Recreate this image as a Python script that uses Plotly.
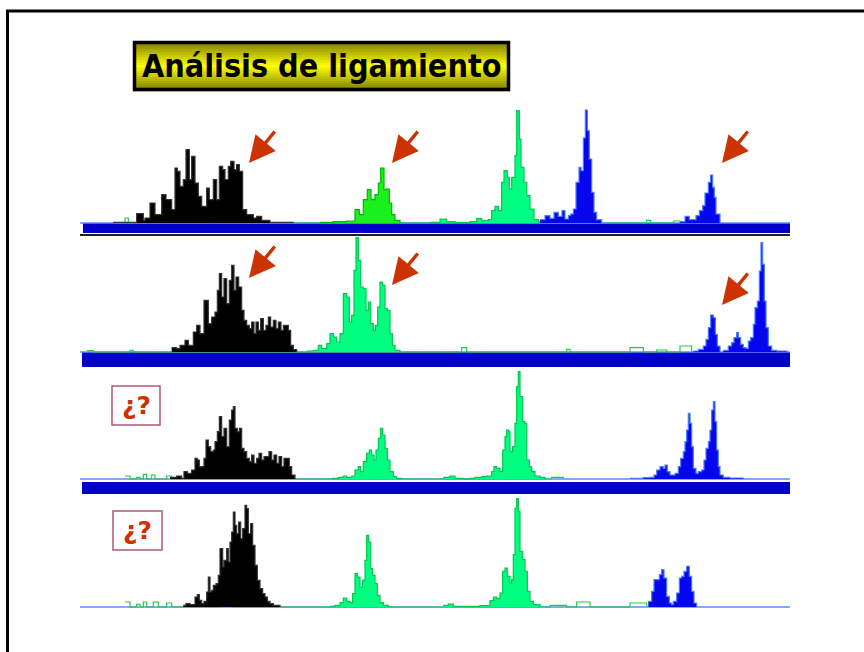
import plotly.graph_objects as go

# ---------------- DATA (scan position, intensity) ----------------
# Panel 1
p1_black_x = [100,170,190,195,210,225,245,258,275,285,292,300,310,318,328,335,345,355,365,380,388,400,410,418,428,435,445,452,462,470,478,488,500,520,530,545,570,640]
p1_black_y = [2,28,8,15,60,25,85,70,40,165,155,110,130,220,130,200,120,80,50,105,70,130,70,170,160,130,170,185,160,175,155,40,25,15,20,8,2,0]
p1_lime_x = [720,760,800,825,838,850,862,873,885,895,902,912,918,928,935,945,960]
p1_lime_y = [2,4,6,40,25,70,100,70,85,120,165,100,102,60,25,8,0]
p1_green_x = [1050,1080,1100,1125,1170,1190,1205,1225,1235,1245,1255,1265,1272,1282,1288,1295,1305,1310,1318,1323,1332,1340,1350,1362,1375,1395]
p1_green_y = [2,12,4,1,4,14,7,10,37,50,37,122,157,137,102,137,202,337,252,167,122,82,42,10,4,0]
p1_blue_x = [1380,1395,1410,1422,1435,1446,1455,1465,1472,1480,1488,1497,1503,1510,1516,1522,1528,1535,1542,1550,1565]
p1_blue_y = [10,22,14,32,20,37,12,22,27,42,122,167,157,255,339,277,192,92,32,10,0]
p1_blue2_x = [1800,1815,1828,1840,1848,1858,1868,1875,1885,1892,1898,1903,1908,1920]
p1_blue2_y = [4,20,10,10,22,37,52,90,122,144,107,77,27,0]
p1_noise_x = [100,135,145,200,210,255,265,305,315,390,400,450,460,1700,1712,1780,1800]
p1_noise_y = [0,15,0,12,0,10,0,10,0,12,0,12,0,8,0,6,0]

# Panel 2
p2_black_x = [275,290,300,315,325,340,350,360,372,385,395,405,412,418,425,432,440,448,455,462,468,476,485,492,500,508,515,522,528,535,542,550,558,565,572,580,588,595,603,610,618,625,632,640,650]
p2_black_y = [13,10,20,35,20,60,80,55,155,85,105,120,185,235,165,220,145,215,260,185,225,195,125,95,80,70,90,55,90,65,100,65,80,105,75,95,70,90,65,80,80,65,20,7,0]
p2_green_x = [680,700,715,725,740,750,760,770,780,790,800,808,815,822,828,835,842,850,858,865,872,880,886,893,900,908,915,922,930,937,945,960]
p2_green_y = [3,5,20,10,25,55,45,30,55,175,165,90,110,245,343,275,195,190,125,150,85,65,80,135,210,200,130,125,55,20,5,0]
p2_blue_x = [1840,1855,1870,1878,1885,1892,1900,1906,1912,1920]
p2_blue_y = [3,8,18,38,73,111,103,53,18,1]
p2_blue2_x = [1930,1945,1955,1962,1970,1975,1982,1990,1998,2005,2012,2020,2025,2032,2038,2043,2048,2053,2058,2065,2075,2090,2120]
p2_blue2_y = [5,18,28,43,58,43,23,13,11,33,43,83,133,153,243,328,263,153,73,18,5,3,1]
p2_noise_x = [20,40,150,160,1145,1160,1460,1470,1650,1690,1730,1760,1800,1835]
p2_noise_y = [4,0,5,0,13,0,8,0,13,0,6,0,18,0]

# Panel 3
p3_black_x = [270,290,305,312,322,335,345,352,358,365,372,378,385,392,400,405,412,418,425,432,440,448,455,460,465,472,478,485,492,500,508,515,522,530,537,545,552,560,567,575,582,590,597,605,612,620,628,635,645]
p3_black_y = [5,9,2,22,17,27,62,57,37,37,62,117,97,82,87,112,142,187,127,152,97,177,207,217,152,142,152,92,82,62,52,72,47,62,77,57,67,67,82,57,72,47,67,37,62,62,37,12,0]
p3_green_x = [755,775,790,800,815,825,835,842,850,860,868,875,882,888,895,902,908,915,922,930,940,950,965]
p3_green_y = [2,5,9,5,9,27,37,22,52,77,87,72,57,87,122,152,132,92,57,22,7,2,0]
p3_green2_x = [1090,1110,1125,1150,1170,1185,1205,1220,1235,1242,1250,1260,1268,1275,1280,1286,1290,1298,1305,1310,1315,1320,1328,1335,1340,1348,1355,1365,1380,1395]
p3_green2_y = [5,9,2,0,2,5,7,9,22,37,32,22,87,127,147,142,82,97,167,277,322,247,172,167,57,37,22,9,5,0]
p3_blue_x = [1650,1690,1710,1722,1730,1740,1750,1755,1762,1770,1785,1795,1802,1810,1815,1820,1825,1830,1835,1840,1848,1855,1865,1872,1878,1885,1890,1895,1900,1905,1910,1915,1920,1930,1950,1990]
p3_blue_y = [2,4,5,12,27,37,32,42,22,12,17,37,62,82,112,147,197,167,97,32,17,22,27,57,92,112,147,207,232,172,87,37,12,5,3,0]
p3_noise_x = [135,150,170,180,190,200,215,225,260,275,1415,1450]
p3_noise_y = [9,0,5,0,14,0,12,0,9,0,5,0]

# Panel 4
p4_black_x = [310,318,330,345,352,358,365,372,380,385,390,395,400,408,415,420,428,432,440,445,450,455,460,465,470,476,482,488,495,500,505,512,518,525,532,540,548,555,562,570,580,600]
p4_black_y = [5,10,7,30,37,20,10,17,45,90,45,50,65,70,95,175,120,140,175,135,195,225,285,245,220,255,205,235,305,295,220,250,185,125,80,55,40,30,17,10,5,0]
p4_green_x = [750,765,780,790,800,810,818,825,832,840,848,855,860,866,872,878,885,892,900,910,925]
p4_green_y = [2,5,13,27,17,13,40,100,90,60,80,140,215,195,115,95,70,35,13,5,0]
p4_green2_x = [1090,1105,1120,1200,1230,1240,1250,1260,1268,1275,1282,1290,1295,1300,1305,1310,1315,1320,1328,1335,1342,1350,1360,1380]
p4_green2_y = [5,9,2,4,19,30,25,42,107,117,92,72,82,157,297,325,287,167,142,107,47,17,7,0]
p4_blue_x = [1705,1715,1722,1730,1738,1745,1752,1760,1768,1775,1780,1790,1798,1805,1812,1820,1828,1835,1842,1850]
p4_blue_y = [17,47,82,82,97,112,87,32,12,7,17,42,87,92,107,122,92,47,12,0]
p4_noise_x = [135,150,170,180,190,200,220,235,260,275,420,455,1410,1460,1490,1530,1650,1700]
p4_noise_y = [15,0,8,0,15,0,15,0,12,0,8,0,5,0,15,0,12,0]

title_text = "Análisis de ligamiento"
question_text = "¿?"

# ---------------- LAYOUT HELPERS ----------------
W, H = 864, 652
def px(x):
    return x / W
def py(y):
    return 1 - y / H

XMAX = 2130
panels = [  # top px, bottom px, baseline px
    (108, 237, 223),
    (236, 367, 352),
    (366, 496, 479),
    (494, 612, 607),
]

BLACK = "#000000"
LIME_F, LIME_L = "#1af01a", "#00b800"
GREEN_F, GREEN_L = "#00ff80", "#00c850"
BLUE_F, BLUE_L = "#0505ee", "#4a7bff"
BAND = "#0000c8"
RED = "#cc3300"

fig = go.Figure()

def add(x, y, n, fc, lc, fill=True, width=1.2):
    fig.add_trace(go.Scatter(
        x=x, y=y, mode="lines",
        line=dict(shape="hv", color=lc, width=width),
        fill="tozeroy" if fill else None,
        fillcolor=fc if fill else None,
        xaxis=f"x{n}" if n > 1 else "x", yaxis=f"y{n}" if n > 1 else "y",
        hoverinfo="skip", showlegend=False))

def baseline(n):
    add([0, XMAX], [0, 0], n, None, "#5a8cff", fill=False, width=1.5)

series = [
    [(p1_noise_x, p1_noise_y, "n"), (p1_black_x, p1_black_y, "k"), (p1_lime_x, p1_lime_y, "l"),
     (p1_green_x, p1_green_y, "g"), (p1_blue_x, p1_blue_y, "b"), (p1_blue2_x, p1_blue2_y, "b")],
    [(p2_noise_x, p2_noise_y, "n"), (p2_black_x, p2_black_y, "k"), (p2_green_x, p2_green_y, "g"),
     (p2_blue_x, p2_blue_y, "b"), (p2_blue2_x, p2_blue2_y, "b")],
    [(p3_noise_x, p3_noise_y, "n"), (p3_black_x, p3_black_y, "k"), (p3_green_x, p3_green_y, "g"),
     (p3_green2_x, p3_green2_y, "g"), (p3_blue_x, p3_blue_y, "b")],
    [(p4_noise_x, p4_noise_y, "n"), (p4_black_x, p4_black_y, "k"), (p4_green_x, p4_green_y, "g"),
     (p4_green2_x, p4_green2_y, "g"), (p4_blue_x, p4_blue_y, "b")],
]

for i, lst in enumerate(series):
    n = i + 1
    baseline(n)
    for x, y, kind in lst:
        if kind == "n":
            add(x, y, n, None, "#22cc44", fill=False, width=1.2)
        elif kind == "k":
            add(x, y, n, BLACK, "#333333")
        elif kind == "l":
            add(x, y, n, LIME_F, LIME_L)
        elif kind == "g":
            add(x, y, n, GREEN_F, GREEN_L)
        else:
            add(x, y, n, BLUE_F, BLUE_L)

layout = dict(width=W, height=H, margin=dict(l=0, r=0, t=0, b=0),
              paper_bgcolor="white", plot_bgcolor="white")
for i, (top, bot, base) in enumerate(panels):
    n = i + 1
    sx = "" if n == 1 else str(n)
    layout[f"xaxis{sx}"] = dict(domain=[px(80), px(790)], range=[0, XMAX], visible=False,
                                anchor=f"y{sx}", fixedrange=True)
    layout[f"yaxis{sx}"] = dict(domain=[py(bot), py(top)], range=[-(bot - base) * 3, (base - top) * 3],
                                visible=False, anchor=f"x{sx}", fixedrange=True)
fig.update_layout(**layout)

shapes = []
# blue bands under panels 1-3
bands = [(1, 9, -30, 0), (2, 6, -45, 0), (3, 6, -51, -9)]
for n, x0, y0, y1 in bands:
    sx = "" if n == 1 else str(n)
    shapes.append(dict(type="rect", xref=f"x{sx}", yref=f"y{sx}", x0=x0, x1=XMAX, y0=y0, y1=y1,
                       fillcolor=BAND, line=dict(width=0), layer="below"))
shapes.append(dict(type="rect", xref="x", yref="y", x0=0, x1=XMAX, y0=-39, y1=-33,
                   fillcolor="#222222", line=dict(width=0), layer="below"))

# slide frame
shapes.append(dict(type="line", xref="paper", yref="paper", x0=px(6), x1=px(870), y0=py(11), y1=py(11),
                   line=dict(color="black", width=3)))
shapes.append(dict(type="line", xref="paper", yref="paper", x0=px(7.5), x1=px(7.5), y0=py(10), y1=py(660),
                   line=dict(color="black", width=3)))

# title box with vertical gradient
tx0, tx1, ty0, ty1 = 133, 510, 41, 91
nstrip = 25
for k in range(nstrip):
    ya = ty0 + (ty1 - ty0) * k / nstrip
    yb = ty0 + (ty1 - ty0) * (k + 1) / nstrip
    t = abs((ya + yb) / 2 - (ty0 + ty1) / 2) / ((ty1 - ty0) / 2)
    r = int(255 * (1 - t) + 120 * t)
    col = f"rgb({r},{r},0)"
    shapes.append(dict(type="rect", xref="paper", yref="paper", x0=px(tx0), x1=px(tx1),
                       y0=py(yb + 0.3), y1=py(ya), fillcolor=col, line=dict(width=0)))
shapes.append(dict(type="rect", xref="paper", yref="paper", x0=px(tx0 + 1.5), x1=px(tx1 - 1.5),
                   y0=py(ty1 - 1.5), y1=py(ty0 + 1.5), line=dict(color="black", width=3.5)))

# question boxes
qboxes = [(112, 160, 386, 425), (113, 162, 511, 550)]
for x0, x1, y0, y1 in qboxes:
    shapes.append(dict(type="rect", xref="paper", yref="paper", x0=px(x0), x1=px(x1), y0=py(y1), y1=py(y0),
                       fillcolor="white", line=dict(color="#b0587c", width=1.5)))

annotations = [dict(text=f"<b>{title_text}</b>", xref="paper", yref="paper", x=px(321.5), y=py(66),
                    showarrow=False, font=dict(family="DejaVu Sans Condensed, DejaVu Sans", size=32, color="black"),
                    xanchor="center", yanchor="middle")]
for x0, x1, y0, y1 in qboxes:
    annotations.append(dict(text=f"<b>{question_text}</b>", xref="paper", yref="paper",
                            x=px((x0 + x1) / 2), y=py((y0 + y1) / 2), showarrow=False,
                            font=dict(family="DejaVu Sans", size=25, color=RED),
                            xanchor="center", yanchor="middle"))

arrows = [(1, 507, 180), (1, 936, 180), (1, 1926, 180),
          (2, 507, 222), (2, 936, 201), (2, 1926, 141)]
for n, xa, ya in arrows:
    sx = "" if n == 1 else str(n)
    annotations.append(dict(text="", xref=f"x{sx}", yref=f"y{sx}", x=xa, y=ya, ax=27, ay=-33,
                            showarrow=True, arrowhead=2, arrowsize=1.5, arrowwidth=3.5,
                            arrowcolor=RED))

fig.update_layout(shapes=shapes, annotations=annotations)
fig.write_html("out.html")
